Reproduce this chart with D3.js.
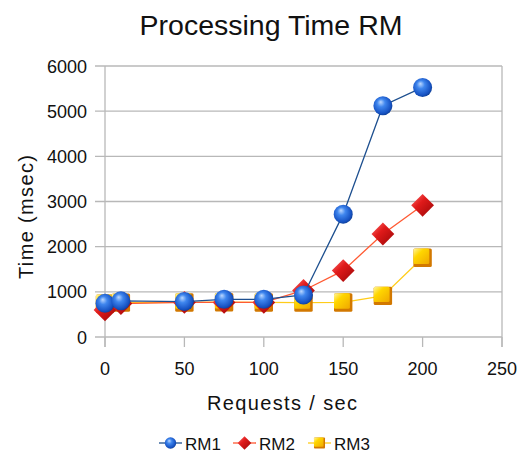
<!DOCTYPE html>
<html>
<head>
<meta charset="utf-8">
<script src="https://cdn.jsdelivr.net/npm/d3@7"></script>
<style>
  html, body { margin: 0; padding: 0; background: #fff; }
  svg { display: block; font-family: "Liberation Sans", Arial, sans-serif; }
</style>
</head>
<body>
<svg id="chart" width="520" height="455"></svg>
<script>
// Request rates (x) and processing times (msec) per resource manager
const requests = [0, 10, 50, 75, 100, 125, 150, 175, 200];
const rm1 = [745, 800, 785, 835, 835, 930, 2720, 5120, 5525];
const rm2 = [600, 740, 765, 765, 765, 1030, 1470, 2280, 2915];
const rm3 = [735, 760, 765, 770, 765, 760, 765, 910, 1755];
const seriesNames = ["RM1", "RM2", "RM3"];
const xTicks = [0, 50, 100, 150, 200, 250];
const yTicks = [0, 1000, 2000, 3000, 4000, 5000, 6000];

const svg = d3.select("#chart");
const plotLeft = 105, plotRight = 502, plotTop = 66, plotBottom = 337;

const x = d3.scaleLinear().domain([0, 250]).range([plotLeft, plotRight]);
const y = d3.scaleLinear().domain([0, 6000]).range([plotBottom, plotTop]);

const gridColor = "#b8b8b8";

// Gradients for the glossy markers
const defs = svg.append("defs");
const sphere = defs.append("radialGradient").attr("id", "gBlue")
  .attr("cx", "45%").attr("cy", "45%").attr("r", "60%").attr("fx", "38%").attr("fy", "30%");
sphere.append("stop").attr("offset", "0%").attr("stop-color", "#bcd8ff");
sphere.append("stop").attr("offset", "35%").attr("stop-color", "#3f86ee");
sphere.append("stop").attr("offset", "80%").attr("stop-color", "#1753c4");
sphere.append("stop").attr("offset", "100%").attr("stop-color", "#0d3a8a");

const dia = defs.append("linearGradient").attr("id", "gRed")
  .attr("x1", "0").attr("y1", "0").attr("x2", "1").attr("y2", "1");
dia.append("stop").attr("offset", "0%").attr("stop-color", "#ff7070");
dia.append("stop").attr("offset", "40%").attr("stop-color", "#e01a1a");
dia.append("stop").attr("offset", "100%").attr("stop-color", "#9a0606");

const sq = defs.append("linearGradient").attr("id", "gYellow")
  .attr("x1", "0").attr("y1", "0").attr("x2", "1").attr("y2", "1");
sq.append("stop").attr("offset", "0%").attr("stop-color", "#fff6a0");
sq.append("stop").attr("offset", "35%").attr("stop-color", "#ffd600");
sq.append("stop").attr("offset", "100%").attr("stop-color", "#f0a800");

// Grid lines and frame
const grid = svg.append("g");
grid.selectAll("line.h").data(yTicks).join("line")
  .attr("x1", plotLeft - 10).attr("x2", plotRight)
  .attr("y1", d => y(d)).attr("y2", d => y(d))
  .attr("stroke", gridColor).attr("stroke-width", 1.3);
grid.selectAll("line.v").data(xTicks).join("line")
  .attr("x1", d => x(d)).attr("x2", d => x(d))
  .attr("y1", plotBottom).attr("y2", plotBottom + 10)
  .attr("stroke", gridColor).attr("stroke-width", 1.3);
grid.append("line").attr("x1", plotLeft).attr("x2", plotLeft).attr("y1", plotTop).attr("y2", plotBottom + 10)
  .attr("stroke", gridColor).attr("stroke-width", 1.3);
grid.append("line").attr("x1", plotRight).attr("x2", plotRight).attr("y1", plotTop).attr("y2", plotBottom + 10)
  .attr("stroke", gridColor).attr("stroke-width", 1.3);

// Tick labels
svg.append("g").selectAll("text").data(yTicks).join("text")
  .attr("x", 87).attr("y", d => y(d) + 6.5)
  .attr("text-anchor", "end").attr("font-size", 18).attr("fill", "#111")
  .text(d => d);
svg.append("g").selectAll("text").data(xTicks).join("text")
  .attr("x", d => x(d)).attr("y", 375)
  .attr("text-anchor", "middle").attr("font-size", 18).attr("fill", "#111")
  .text(d => d);

// Titles
svg.append("text").attr("x", 271).attr("y", 35).attr("text-anchor", "middle")
  .attr("font-size", 28.5).attr("fill", "#111").text("Processing Time RM");
svg.append("text").attr("x", 282).attr("y", 410).attr("text-anchor", "middle")
  .attr("font-size", 20).attr("fill", "#111")
  .attr("textLength", 150).attr("lengthAdjust", "spacing").text("Requests / sec");
svg.append("text").attr("transform", "translate(33,217) rotate(-90)").attr("text-anchor", "middle")
  .attr("font-size", 20).attr("fill", "#111")
  .attr("textLength", 124).attr("lengthAdjust", "spacing").text("Time (msec)");

// Marker shapes
function drawMarker(g, kind, cx, cy, s) {
  if (kind === "sphere") {
    g.append("circle").attr("cx", cx).attr("cy", cy).attr("r", 9.5 * s).attr("fill", "url(#gBlue)");
  } else if (kind === "diamond") {
    const h = 11.4 * s;
    g.append("path")
      .attr("d", `M${cx},${cy - h}L${cx + h},${cy}L${cx},${cy + h}L${cx - h},${cy}Z`)
      .attr("fill", "url(#gRed)");
  } else {
    const h = 9.2 * s;
    g.append("rect").attr("x", cx - h).attr("y", cy - h).attr("width", 2 * h).attr("height", 2 * h)
      .attr("rx", 1.5 * s).attr("fill", "#d27800");
    g.append("rect").attr("x", cx - h).attr("y", cy - h).attr("width", 2 * h - 2.5 * s).attr("height", 2 * h - 3 * s)
      .attr("rx", 1.5 * s).attr("fill", "url(#gYellow)");
  }
}

const series = [
  { name: "RM1", values: rm1, color: "#1d4f8f", marker: "sphere" },
  { name: "RM2", values: rm2, color: "#ff5a33", marker: "diamond" },
  { name: "RM3", values: rm3, color: "#ffcc1a", marker: "square" }
];

const line = d3.line().x(d => x(d[0])).y(d => y(d[1]));

// Draw last series first so RM1 ends on top
series.slice().reverse().forEach(s => {
  const pts = requests.map((r, i) => [r, s.values[i]]);
  const g = svg.append("g");
  g.append("path").attr("d", line(pts)).attr("fill", "none")
    .attr("stroke", s.color).attr("stroke-width", 1.3);
  pts.forEach(p => drawMarker(g, s.marker, x(p[0]), y(p[1]), 1));
});

// Legend
const legendX = [159, 233, 308];
const legend = svg.append("g");
series.forEach((s, i) => {
  const lx = legendX[i];
  legend.append("line").attr("x1", lx).attr("x2", lx + 23).attr("y1", 443).attr("y2", 443)
    .attr("stroke", s.color).attr("stroke-width", 1.3);
  drawMarker(legend, s.marker, lx + 11.5, 443, 0.6);
  legend.append("text").attr("x", lx + 26).attr("y", 449.5).attr("font-size", 17)
    .attr("fill", "#111").text(seriesNames[i]);
});
</script>
</body>
</html>
